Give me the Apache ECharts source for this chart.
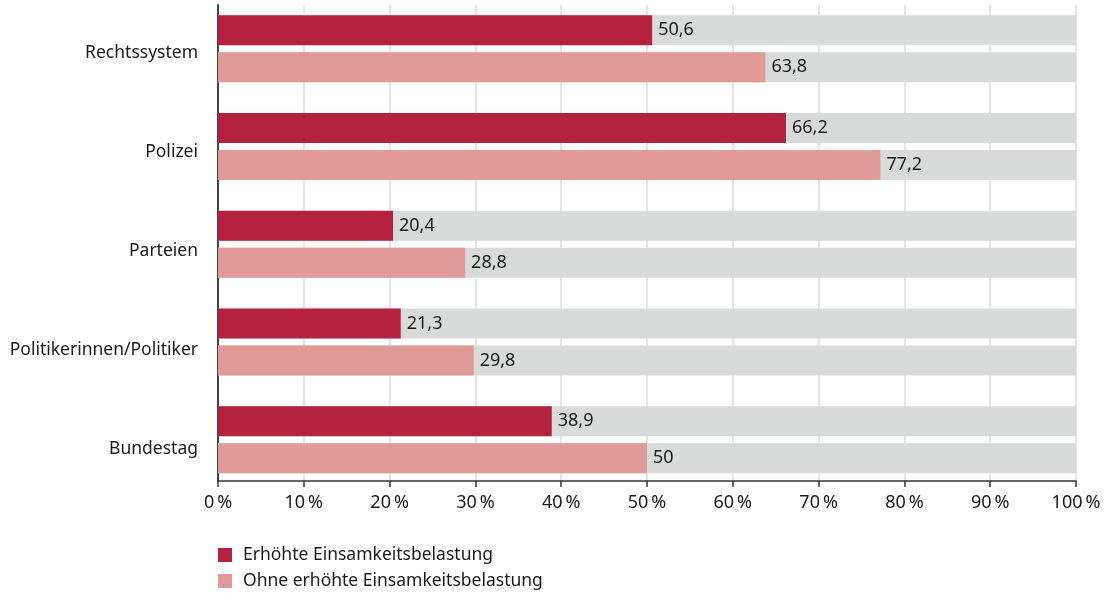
<!DOCTYPE html>
<html>
<head>
<meta charset="utf-8">
<script src="https://cdn.jsdelivr.net/npm/echarts@6/dist/echarts.min.js"></script>
<style>
  html, body { margin: 0; padding: 0; background: #ffffff; }
  #chart { width: 1111px; height: 593px; }
</style>
</head>
<body>
<div id="chart"></div>
<script>
// Vertrauen in Institutionen (Anteil in %)
const categories = ['Rechtssystem', 'Polizei', 'Parteien', 'Politikerinnen/Politiker', 'Bundestag'];
const seriesNames = ['Erhöhte Einsamkeitsbelastung', 'Ohne erhöhte Einsamkeitsbelastung'];
const withLoneliness = [50.6, 66.2, 20.4, 21.3, 38.9];
const withoutLoneliness = [63.8, 77.2, 28.8, 29.8, 50];
const tickValues = [0, 10, 20, 30, 40, 50, 60, 70, 80, 90, 100];

const FONT = '"Noto Sans", "DejaVu Sans", sans-serif';
const TEXT = '#1a1a1a';
const DARK = '#b5223f';
const LIGHT = '#e09a98';
const TRACK = '#d9dbda';

const fmt = v => String(v).replace('.', ',');

const chart = echarts.init(document.getElementById('chart'), null, { renderer: 'canvas' });

chart.setOption({
  animation: false,
  backgroundColor: '#ffffff',
  textStyle: { fontFamily: FONT, color: TEXT },
  grid: [
    // bars
    { left: 218, right: 35, top: -1.5, height: 490 },
    // axis frame, ticks and gridlines
    { left: 218, right: 35, top: 5, height: 476 },
    // category labels
    { left: 218, right: 35, top: 3, height: 495.5 }
  ],
  legend: {
    orient: 'vertical',
    left: 218,
    top: 546,
    padding: 0,
    itemWidth: 14,
    itemHeight: 14,
    itemGap: 8,
    icon: 'rect',
    data: seriesNames,
    textStyle: { fontFamily: FONT, fontSize: 17.5, lineHeight: 16, color: TEXT, padding: [0, 0, 0, 6] }
  },
  xAxis: [
    { gridIndex: 0, type: 'value', min: 0, max: 100, show: false },
    {
      gridIndex: 1, type: 'value', min: 0, max: 100, interval: 10,
      axisLine: { show: true, lineStyle: { color: '#333333', width: 1.5 } },
      axisTick: { show: true, length: 6, lineStyle: { color: '#333333', width: 1.5 } },
      axisLabel: {
        margin: 13, fontFamily: FONT, fontSize: 18, color: TEXT,
        formatter: v => tickValues.includes(v) ? v + '\u2009%' : ''
      },
      splitLine: { show: true, lineStyle: { color: '#dddddd', width: 1.5 } }
    },
    { gridIndex: 2, type: 'value', min: 0, max: 100, show: false }
  ],
  yAxis: [
    { gridIndex: 0, type: 'category', data: categories, inverse: true, show: false },
    {
      gridIndex: 1, type: 'value', min: 0, max: 1,
      axisLine: { show: true, lineStyle: { color: '#444444', width: 2 } },
      axisTick: { show: false }, axisLabel: { show: false }, splitLine: { show: false }
    },
    {
      gridIndex: 2, type: 'category', data: categories, inverse: true,
      axisLine: { show: false }, axisTick: { show: false },
      axisLabel: { margin: 20, fontFamily: FONT, fontSize: 17.5, color: TEXT }
    }
  ],
  series: [
    {
      name: seriesNames[0], type: 'bar', xAxisIndex: 0, yAxisIndex: 0,
      data: withLoneliness, barWidth: 30, barGap: '23.3%',
      itemStyle: { color: DARK },
      showBackground: true, backgroundStyle: { color: TRACK },
      label: { show: true, position: 'right', distance: 6, fontFamily: FONT, fontSize: 18, color: TEXT, formatter: p => fmt(p.value) }
    },
    {
      name: seriesNames[1], type: 'bar', xAxisIndex: 0, yAxisIndex: 0,
      data: withoutLoneliness, barWidth: 30, barGap: '23.3%',
      itemStyle: { color: LIGHT },
      showBackground: true, backgroundStyle: { color: TRACK },
      label: { show: true, position: 'right', distance: 6, fontFamily: FONT, fontSize: 18, color: TEXT, formatter: p => fmt(p.value) }
    }
  ]
});
</script>
</body>
</html>
